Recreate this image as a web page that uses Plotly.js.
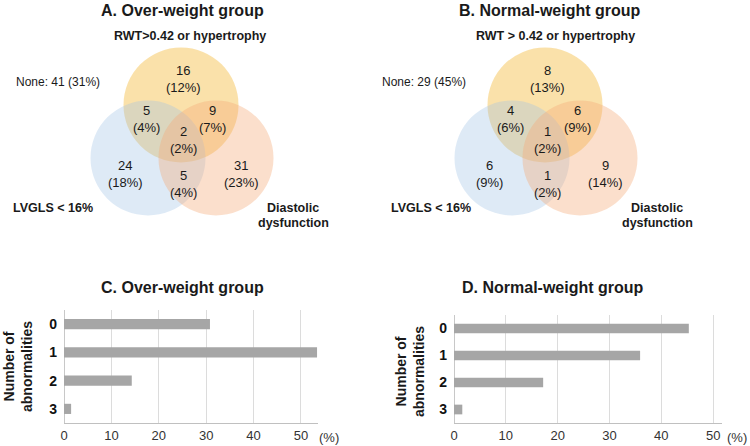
<!DOCTYPE html>
<html>
<head>
<meta charset="utf-8">
<script src="https://cdn.plot.ly/plotly-3.0.1.min.js"></script>
<style>
  body { margin: 0; background: #fff; }
  #chart { width: 750px; height: 446px; }
</style>
</head>
<body>
<div id="chart"></div>
<script>
// bar data (percent of patients by number of abnormalities)
var abnCats = ["0", "1", "2", "3"];
var overPct = [30.8, 53.4, 14.3, 1.5];
var normalPct = [45.3, 35.9, 17.2, 1.6];
var xTicks = [0, 10, 20, 30, 40, 50];

// venn counts: Y only, Y+B, Y+O, all, B only, B+O, O only
var overCounts = [16, 5, 9, 2, 24, 5, 31];
var overShares = [12, 4, 7, 2, 18, 4, 23];
var normalCounts = [8, 4, 6, 1, 6, 1, 9];
var normalShares = [13, 6, 9, 2, 9, 2, 14];
var overNone = [41, 31];
var normalNone = [29, 45];

var W = 750, H = 446;
function px(x) { return x / W; }
function py(y) { return 1 - y / H; }

var FONT = "Liberation Sans, Arial, sans-serif";

// venn geometry in pixels (panel A; panel B shifted right)
var R = 57.5;
var circles = [
  { dx: 181, dy: 105, fill: "rgba(245,200,100,0.55)" },
  { dx: 148, dy: 158, fill: "rgba(160,195,230,0.35)" },
  { dx: 216, dy: 158, fill: "rgba(245,170,120,0.38)" }
];
var regionPos = [[183, 70], [146, 110], [213, 110], [183, 132], [125, 165], [183, 175], [241, 165]];

var shapes = [];
var annotations = [];

function note(x, y, text, size, extra) {
  var a = {
    xref: "paper", yref: "paper", x: px(x), y: py(y),
    xanchor: "center", yanchor: "middle",
    text: text, showarrow: false,
    font: { family: FONT, size: size, color: "#1a1a1a" }
  };
  for (var k in extra) a[k] = extra[k];
  annotations.push(a);
}

function venn(shift, counts, shares, none, rwtText, rwtX, noneX, lvX, title, titleX) {
  circles.forEach(function (c) {
    shapes.push({
      type: "circle", xref: "paper", yref: "paper",
      x0: px(c.dx + shift - R), x1: px(c.dx + shift + R),
      y0: py(c.dy + R), y1: py(c.dy - R),
      fillcolor: c.fill, line: { width: 0 }, layer: "above"
    });
  });
  counts.forEach(function (n, i) {
    var p = regionPos[i];
    note(p[0] + shift, p[1], String(n), 13);
    note(p[0] + shift, p[1] + 17, "(" + shares[i] + "%)", 13);
  });
  note(titleX, 11, "<b>" + title + "</b>", 16);
  note(rwtX, 36, "<b>" + rwtText + "</b>", 12.5);
  note(noneX, 82, "None: " + none[0] + " (" + none[1] + "%)", 12, { xanchor: "left" });
  note(lvX, 208, "<b>LVGLS < 16%</b>", 12.5, { xanchor: "left" });
  note(293 + shift, 208, "<b>Diastolic</b>", 12.5);
  note(293 + shift, 223, "<b>dysfunction</b>", 12.5);
}

venn(0, overCounts, overShares, overNone, "RWT>0.42 or hypertrophy", 190, 14, 11, "A. Over-weight group", 182);
venn(364, normalCounts, normalShares, normalNone, "RWT > 0.42 or hypertrophy", 555, 380, 389, "B. Normal-weight group", 550);

// bar panel labels
[[182, "C. Over-weight group", 18, 367, 329], [553, "D. Normal-weight group", 410, 372, 737]].forEach(function (p) {
  note(p[0], 287, "<b>" + p[1] + "</b>", 16);
  note(p[2], p[3], "<b>Number of<br>abnormalities</b>", 14, { textangle: -90 });
  note(p[4], 437, "(%)", 13, { font: { family: FONT, size: 13, color: "#333" } });
});

var barStyle = { color: "#a6a6a6" };
var traces = [
  { type: "bar", orientation: "h", x: overPct, y: abnCats, width: 0.36, marker: barStyle,
    xaxis: "x", yaxis: "y", hoverinfo: "x" },
  { type: "bar", orientation: "h", x: normalPct, y: abnCats, width: 0.36, marker: barStyle,
    xaxis: "x2", yaxis: "y2", hoverinfo: "x" }
];

function xAx(domain, max, anchor) {
  return {
    domain: domain, range: [0, max], anchor: anchor, tickvals: xTicks,
    showgrid: true, gridcolor: "#dcdcdc", gridwidth: 1,
    zeroline: true, zerolinecolor: "#c8c8c8", zerolinewidth: 1,
    showline: true, linecolor: "#c0c0c0", linewidth: 1,
    ticks: "", tickfont: { family: FONT, size: 13, color: "#333" }, fixedrange: true
  };
}
function yAx(domain, anchor) {
  return {
    domain: domain, anchor: anchor, type: "category", autorange: "reversed",
    showgrid: false, zeroline: false, showline: false, ticks: "",
    ticklabelstandoff: 6,
    tickfont: { family: FONT, size: 14, color: "#111", weight: "bold" }, fixedrange: true
  };
}

var layout = {
  width: W, height: H,
  margin: { l: 0, r: 0, t: 0, b: 0 },
  paper_bgcolor: "#fff", plot_bgcolor: "rgba(0,0,0,0)",
  showlegend: false,
  xaxis: xAx([px(64), px(318)], 53.6, "y"),
  yaxis: yAx([py(423), py(310)], "x"),
  xaxis2: xAx([px(454), px(722)], 51.7, "y2"),
  yaxis2: yAx([py(423), py(315)], "x2"),
  shapes: shapes,
  annotations: annotations
};

Plotly.newPlot("chart", traces, layout, { displayModeBar: false, staticPlot: true });
</script>
</body>
</html>
